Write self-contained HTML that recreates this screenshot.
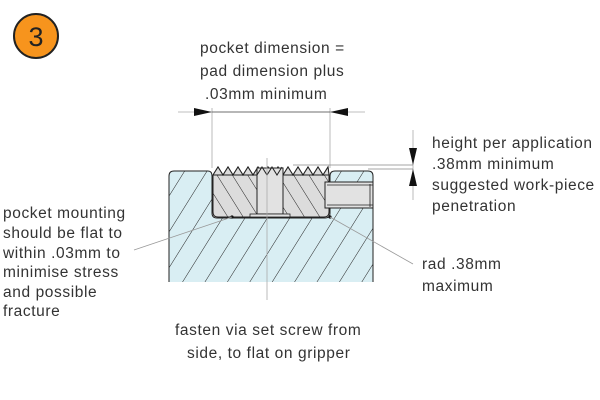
<!DOCTYPE html>
<html><head><meta charset="utf-8"><style>
html,body{margin:0;padding:0;background:#fff;}
svg{display:block;}
text{font-family:"Liberation Sans",Arial,sans-serif;font-size:15.5px;fill:#333;letter-spacing:0.6px;}
</style></head><body>
<svg width="600" height="400" viewBox="0 0 600 400" xmlns="http://www.w3.org/2000/svg">
<defs>
<pattern id="hb" patternUnits="userSpaceOnUse" width="19" height="19" patternTransform="rotate(32)">
<rect width="19" height="19" fill="#d9eef3"/><line x1="0" y1="0" x2="0" y2="19" stroke="#222" stroke-width="1"/></pattern>
<pattern id="hg" patternUnits="userSpaceOnUse" width="13" height="13" patternTransform="rotate(-32)">
<rect width="13" height="13" fill="#dcdcdc"/><line x1="0" y1="0" x2="0" y2="13" stroke="#222" stroke-width="1"/></pattern>
</defs>
<circle cx="36" cy="36" r="22" fill="#f7941d" stroke="#222" stroke-width="2"/>
<text x="36" y="46" text-anchor="middle" style="font-size:27px;fill:#222;letter-spacing:0">3</text>

<path d="M169,283 L169,176 Q169,171 174,171 L208,171 Q212,171 212,176 L212,213 Q212,218 217,218 L325,218 Q330,218 330,213 L330,176 Q330,171 335,171 L368,171 Q373,171 373,176 L373,283 Z" fill="url(#hb)" stroke="#222" stroke-width="1"/>
<rect x="168" y="282" width="206" height="6" fill="#fff"/>
<path d="M213,175 L218,167 L223,175 L228,167 L233,175 L238,167 L243,175 L248,167 L253,175 L258,167 L263,175 L268,167 L273,175 L278,167 L283,175 L288,167 L293,175 L298,167 L303,175 L308,167 L313,175 L318,167 L323,175 L328,167 L329,175 L329,212 Q329,217 324,217 L218,217 Q213,217 213,212 Z" fill="url(#hg)" stroke="#222" stroke-width="1"/>
<path d="M213,175 L218,167 L223,175 L228,167 L233,175 L238,167 L243,175 L248,167 L253,175 L258,167 L263,175 L268,167 L273,175 L278,167 L283,175 L288,167 L293,175 L298,167 L303,175 L308,167 L313,175 L318,167 L323,175 L328,167 L329,175 Z" fill="#dcdcdc" stroke="#222" stroke-width="1"/>
<line x1="213" y1="175" x2="329" y2="175" stroke="#222"/>
<rect x="257" y="168" width="26" height="46" fill="#e2e2e2" stroke="#222" stroke-width="1"/>
<path d="M257,175 L262,167 L267,175 L272,167 L277,175 L282,167" fill="none" stroke="#222"/>
<rect x="250" y="214" width="40" height="3" fill="#e2e2e2" stroke="#222" stroke-width="0.8"/>
<rect x="325" y="182" width="48" height="26" fill="#e2e2e2" stroke="#222" stroke-width="1"/>
<line x1="327" y1="185" x2="373" y2="185" stroke="#222" stroke-width="0.8"/>
<line x1="327" y1="205" x2="373" y2="205" stroke="#222" stroke-width="0.8"/>
<line x1="370" y1="184" x2="370" y2="207" stroke="#222" stroke-width="0.8"/>
<circle cx="232" cy="217" r="1.6" fill="#111"/>
<circle cx="330" cy="217" r="1.6" fill="#111"/>

<line x1="267" y1="158" x2="267" y2="300" stroke="#aaa" stroke-width="0.8"/>

<line x1="212" y1="108" x2="212" y2="168" stroke="#aaa" stroke-width="0.8"/>
<line x1="330" y1="108" x2="330" y2="168" stroke="#aaa" stroke-width="0.8"/>
<line x1="178" y1="112" x2="365" y2="112" stroke="#aaa" stroke-width="0.8"/>
<line x1="212" y1="112" x2="330" y2="112" stroke="#555" stroke-width="0.8"/>
<polygon points="194,108 212,112 194,116" fill="#111"/>
<polygon points="348,108 330,112 348,116" fill="#111"/>

<line x1="413" y1="130" x2="413" y2="200" stroke="#aaa" stroke-width="0.8"/>
<line x1="293" y1="165" x2="413" y2="165" stroke="#888" stroke-width="0.8"/>
<line x1="368" y1="169" x2="413" y2="169" stroke="#888" stroke-width="0.8"/>
<polygon points="409,148 417,148 413,165" fill="#111"/>
<polygon points="409,186 417,186 413,169" fill="#111"/>

<line x1="232" y1="217" x2="134" y2="250" stroke="#999" stroke-width="0.8"/>
<line x1="330" y1="217" x2="413" y2="264" stroke="#999" stroke-width="0.8"/>

<text x="200" y="53">pocket dimension =</text>
<text x="200" y="76">pad dimension plus</text>
<text x="205" y="99">.03mm minimum</text>

<text x="432" y="148">height per application</text>
<text x="432" y="169">.38mm minimum</text>
<text x="432" y="190">suggested work-piece</text>
<text x="432" y="211">penetration</text>

<text x="422" y="269">rad .38mm</text>
<text x="422" y="291">maximum</text>

<text x="3" y="218">pocket mounting</text>
<text x="3" y="238">should be flat to</text>
<text x="3" y="258">within .03mm to</text>
<text x="3" y="277">minimise stress</text>
<text x="3" y="297">and possible</text>
<text x="3" y="316">fracture</text>

<text x="175" y="335">fasten via set screw from</text>
<text x="187" y="358">side, to flat on gripper</text>
</svg>
</body></html>
